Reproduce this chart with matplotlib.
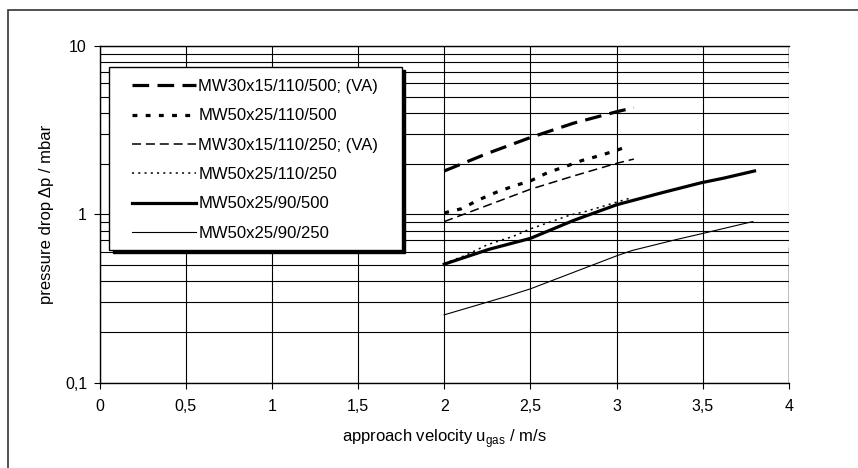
import matplotlib
matplotlib.use("Agg")
import matplotlib.pyplot as plt
from matplotlib.patches import Rectangle
from matplotlib.ticker import FixedLocator, LogLocator, NullFormatter

plt.rcParams['font.family'] = ['Liberation Sans', 'DejaVu Sans']
plt.rcParams['mathtext.fontset'] = 'custom'
plt.rcParams['mathtext.rm'] = 'Liberation Sans'
plt.rcParams['lines.scale_dashes'] = False

# approach velocity (m/s) and pressure drop (mbar)
v1 = [2.0, 2.25, 2.5, 2.75, 3.0, 3.1]
dp1 = [1.81, 2.3, 2.86, 3.48, 4.07, 4.3]
v2 = [2.0, 2.1, 2.2, 2.3, 2.4, 2.5, 2.6, 2.7, 2.8, 2.9, 3.0, 3.07]
dp2 = [1.02, 1.08, 1.22, 1.35, 1.47, 1.58, 1.77, 1.92, 2.09, 2.23, 2.40, 2.55]
v3 = [2.0, 2.25, 2.5, 2.75, 3.0, 3.1]
dp3 = [0.906, 1.13, 1.41, 1.69, 2.01, 2.13]
v4 = [2.0, 2.13, 2.25, 2.4, 2.5, 2.73, 2.82, 3.08]
dp4 = [0.51, 0.575, 0.66, 0.74, 0.82, 0.99, 1.04, 1.25]
v5 = [2.0, 2.26, 2.5, 2.75, 3.0, 3.27, 3.49, 3.62, 3.8]
dp5 = [0.506, 0.62, 0.72, 0.92, 1.14, 1.35, 1.54, 1.64, 1.81]
v6 = [2.0, 2.36, 2.5, 3.0, 3.09, 3.35, 3.49, 3.79]
dp6 = [0.253, 0.325, 0.361, 0.567, 0.61, 0.71, 0.766, 0.906]

labels = ["MW30x15/110/500; (VA)", "MW50x25/110/500", "MW30x15/110/250; (VA)",
          "MW50x25/110/250", "MW50x25/90/500", "MW50x25/90/250"]

xticks = [0, 0.5, 1, 1.5, 2, 2.5, 3, 3.5, 4]
xticklabels = ["0", "0,5", "1", "1,5", "2", "2,5", "3", "3,5", "4"]
yticks = [0.1, 1, 10]
yticklabels = ["0,1", "1", "10"]

W, H = 858, 468
fig = plt.figure(figsize=(W / 100, H / 100), dpi=100)
ax = fig.add_axes([99.5 / W, 1 - 382.7 / H, 689.5 / W, 336.7 / H])

ax.plot(v1, dp1, color='black', lw=2.3, ls=(0, (12, 6)), label=labels[0])
ax.plot(v2, dp2, color='black', lw=2.3, ls=(0, (3.5, 6)), label=labels[1])
ax.plot(v3, dp3, color='black', lw=1.1, ls=(0, (6.5, 3.5)), label=labels[2])
ax.plot(v4, dp4, color='black', lw=1.1, ls=(0, (1.5, 3)), label=labels[3])
ax.plot(v5, dp5, color='black', lw=2.3, label=labels[4])
ax.plot(v6, dp6, color='black', lw=0.8, label=labels[5])

ax.set_yscale('log')
ax.set_xlim(0, 4)
ax.set_ylim(0.1, 10)
ax.xaxis.set_major_locator(FixedLocator(xticks))
ax.set_xticklabels(xticklabels)
ax.yaxis.set_major_locator(FixedLocator(yticks))
ax.set_yticklabels(yticklabels)
ax.yaxis.set_minor_locator(LogLocator(base=10, subs=range(2, 10)))
ax.yaxis.set_minor_formatter(NullFormatter())
ax.tick_params(axis='both', which='major', direction='out', length=4, width=0.8,
               labelsize=11.5)
ax.tick_params(axis='x', pad=8)
ax.tick_params(axis='y', pad=5)
ax.tick_params(axis='y', which='minor', length=0)
ax.grid(True, axis='x', which='major', color='black', lw=0.8)
ax.grid(True, axis='y', which='both', color='black', lw=0.8)
ax.set_axisbelow(True)
for s in ax.spines.values():
    s.set_linewidth(1.0)
ax.spines['right'].set_visible(False)
ax.axvline(4, ymin=0, ymax=(382.7 - 248) / 336.7, color='black', lw=1.0)
ax.axvline(4, ymin=(382.7 - 67) / 336.7, ymax=1, color='black', lw=1.0)

ax.set_xlabel("approach velocity u$_\\mathregular{gas}$ / m/s", fontsize=12, labelpad=9)
ax.set_ylabel("pressure drop \u0394p / mbar", fontsize=12, labelpad=8)

# outer chart frame
fig.add_artist(Rectangle((7.5 / W, -0.1), 1.2, 1 - 10 / H + 0.1, transform=fig.transFigure,
                         fill=False, edgecolor='#333333', lw=1.2))

# legend box with shadow
bx0, by0, bx1, by1 = 109, 67, 402, 250
ax.add_patch(Rectangle(((bx0 + 3.5) / W, 1 - (by1 + 3.5) / H), (bx1 - bx0) / W, (by1 - by0) / H,
                       transform=fig.transFigure, facecolor='black', edgecolor='black',
                       lw=1, zorder=4, clip_on=False))
ax.add_patch(Rectangle((bx0 / W, 1 - by1 / H), (bx1 - bx0) / W, (by1 - by0) / H,
                       transform=fig.transFigure, facecolor='white', edgecolor='black',
                       lw=1, zorder=4.5, clip_on=False))
ax.legend(loc='upper left', bbox_to_anchor=(132 / W, 1 - 79 / H), bbox_transform=fig.transFigure,
          frameon=False, borderpad=0, borderaxespad=0, handlelength=3.85, handletextpad=0.12,
          labelspacing=0.86, fontsize=12)

fig.savefig("out.png", dpi=100)
